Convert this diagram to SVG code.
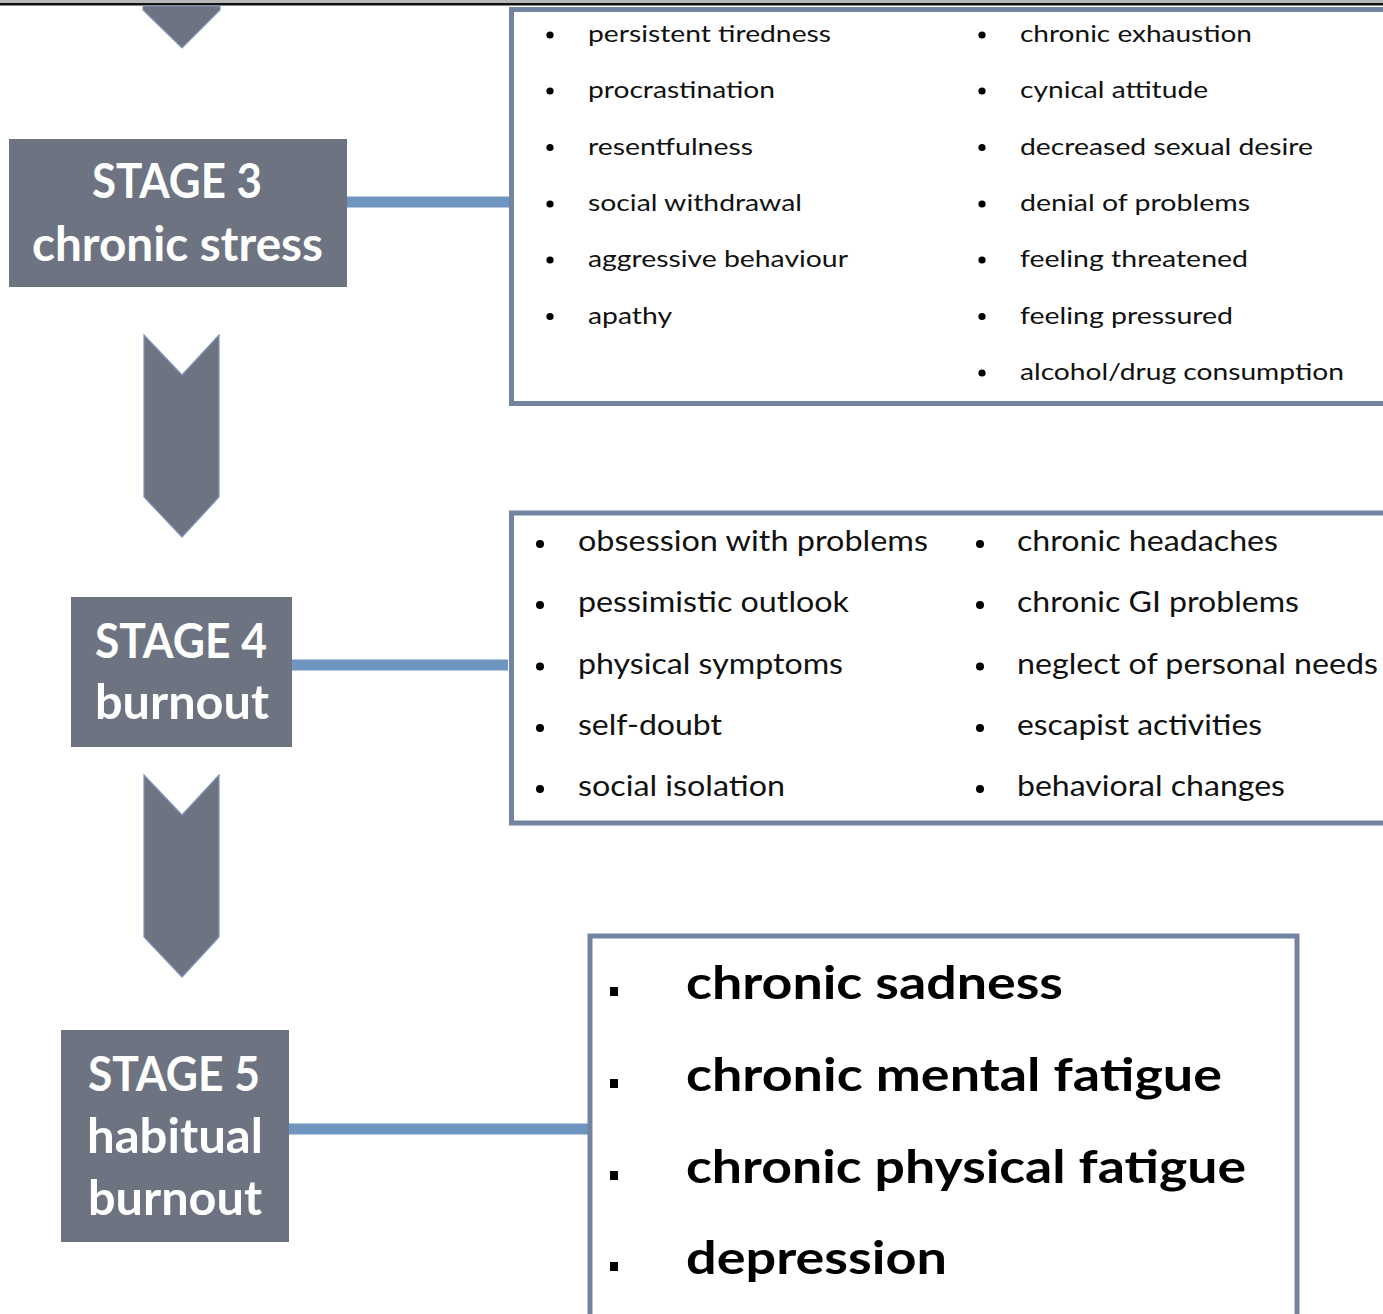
<svg xmlns="http://www.w3.org/2000/svg" width="1383" height="1314" viewBox="0 0 1383 1314">
  <style>
    .node rect { fill: #6d7381; }
    .node text { fill: #ffffff; font-family: Lato, "Open Sans", sans-serif; font-weight: bold; font-size: 48px; }
    .chev { fill: #6d7381; stroke: #7d95ba; stroke-width: 1.2; }
    .box { fill: none; stroke: #7384a3; stroke-width: 5; }
    .link { stroke: #6e94c0; stroke-width: 11; fill: none; }
    .s3 text { font-family: Lato, "Open Sans", sans-serif; font-size: 23px; fill: #111; }
    .s4 text { font-family: Lato, "Open Sans", sans-serif; font-size: 29px; fill: #111; }
    .s5 text { font-family: Lato, "Open Sans", sans-serif; font-size: 46px; font-weight: bold; fill: #000; }
    .dot { fill: #000; }
  </style>

  <!-- page rule at the top edge -->
  <rect x="0" y="0" width="1383" height="3" fill="#b8b8b8"/>
  <rect x="0" y="3" width="1383" height="2.5" fill="#111"/>

  <!-- flow chevrons -->
  <g id="chevrons">
    <polygon class="chev" points="143,6 220,6 220,10 182,48 143,10"/>
    <polygon class="chev" points="144,335 182,375 219,335 219,497 182,537 144,497"/>
    <polygon class="chev" points="144,775 182,815 219,775 219,937 182,977 144,937"/>
  </g>

  <!-- connectors from stage nodes to symptom lists -->
  <g id="connectors">
    <line class="link" x1="343" y1="202" x2="510" y2="202"/>
    <line class="link" x1="291" y1="665" x2="508" y2="665"/>
    <line class="link" x1="283" y1="1129" x2="588" y2="1129"/>
  </g>

  <!-- stage nodes -->
  <g id="stage3" class="node">
    <rect x="9" y="139" width="338" height="148"/>
    <text x="92" y="198" textLength="170" lengthAdjust="spacingAndGlyphs">STAGE 3</text>
    <text x="32" y="261" textLength="291" lengthAdjust="spacingAndGlyphs">chronic stress</text>
  </g>
  <g id="stage4" class="node">
    <rect x="71" y="597" width="221" height="150"/>
    <text x="95" y="658" textLength="172" lengthAdjust="spacingAndGlyphs">STAGE 4</text>
    <text x="95" y="719" textLength="174" lengthAdjust="spacingAndGlyphs">burnout</text>
  </g>
  <g id="stage5" class="node">
    <rect x="61" y="1030" width="228" height="212"/>
    <text x="88" y="1091" textLength="172" lengthAdjust="spacingAndGlyphs">STAGE 5</text>
    <text x="87" y="1153" textLength="176" lengthAdjust="spacingAndGlyphs">habitual</text>
    <text x="88" y="1215" textLength="174" lengthAdjust="spacingAndGlyphs">burnout</text>
  </g>

  <!-- stage 3 symptom list -->
  <g id="list3" class="s3">
    <rect class="box" x="511.5" y="9.5" width="900" height="394"/>
    <g class="dot">
      <circle cx="550" cy="35" r="3.6"/><circle cx="550" cy="91" r="3.6"/><circle cx="550" cy="147.5" r="3.6"/>
      <circle cx="550" cy="204" r="3.6"/><circle cx="550" cy="260" r="3.6"/><circle cx="550" cy="316.5" r="3.6"/>
      <circle cx="982" cy="35" r="3.6"/><circle cx="982" cy="91" r="3.6"/><circle cx="982" cy="147.5" r="3.6"/>
      <circle cx="982" cy="204" r="3.6"/><circle cx="982" cy="260" r="3.6"/><circle cx="982" cy="316.5" r="3.6"/>
      <circle cx="982" cy="373" r="3.6"/>
    </g>
    <text x="588" y="42" textLength="243" lengthAdjust="spacingAndGlyphs">persistent tiredness</text>
    <text x="588" y="98" textLength="187" lengthAdjust="spacingAndGlyphs">procrastination</text>
    <text x="588" y="154.5" textLength="165" lengthAdjust="spacingAndGlyphs">resentfulness</text>
    <text x="588" y="211" textLength="214" lengthAdjust="spacingAndGlyphs">social withdrawal</text>
    <text x="588" y="267" textLength="260" lengthAdjust="spacingAndGlyphs">aggressive behaviour</text>
    <text x="588" y="323.5" textLength="84" lengthAdjust="spacingAndGlyphs">apathy</text>
    <text x="1020" y="42" textLength="232" lengthAdjust="spacingAndGlyphs">chronic exhaustion</text>
    <text x="1020" y="98" textLength="188" lengthAdjust="spacingAndGlyphs">cynical attitude</text>
    <text x="1020" y="154.5" textLength="293" lengthAdjust="spacingAndGlyphs">decreased sexual desire</text>
    <text x="1020" y="211" textLength="230" lengthAdjust="spacingAndGlyphs">denial of problems</text>
    <text x="1020" y="267" textLength="228" lengthAdjust="spacingAndGlyphs">feeling threatened</text>
    <text x="1020" y="323.5" textLength="213" lengthAdjust="spacingAndGlyphs">feeling pressured</text>
    <text x="1020" y="380" textLength="324" lengthAdjust="spacingAndGlyphs">alcohol/drug consumption</text>
  </g>

  <!-- stage 4 symptom list -->
  <g id="list4" class="s4">
    <rect class="box" x="511.5" y="513" width="900" height="310"/>
    <g class="dot">
      <circle cx="540" cy="544" r="4"/><circle cx="540" cy="605" r="4"/><circle cx="540" cy="666.5" r="4"/>
      <circle cx="540" cy="728" r="4"/><circle cx="540" cy="789" r="4"/>
      <circle cx="980" cy="544" r="4"/><circle cx="980" cy="605" r="4"/><circle cx="980" cy="666.5" r="4"/>
      <circle cx="980" cy="728" r="4"/><circle cx="980" cy="789" r="4"/>
    </g>
    <text x="578" y="551" textLength="350" lengthAdjust="spacingAndGlyphs">obsession with problems</text>
    <text x="578" y="612" textLength="271" lengthAdjust="spacingAndGlyphs">pessimistic outlook</text>
    <text x="578" y="673.5" textLength="265" lengthAdjust="spacingAndGlyphs">physical symptoms</text>
    <text x="578" y="735" textLength="144" lengthAdjust="spacingAndGlyphs">self-doubt</text>
    <text x="578" y="796" textLength="207" lengthAdjust="spacingAndGlyphs">social isolation</text>
    <text x="1017" y="551" textLength="261" lengthAdjust="spacingAndGlyphs">chronic headaches</text>
    <text x="1017" y="612" textLength="282" lengthAdjust="spacingAndGlyphs">chronic GI problems</text>
    <text x="1017" y="673.5" textLength="361" lengthAdjust="spacingAndGlyphs">neglect of personal needs</text>
    <text x="1017" y="735" textLength="245" lengthAdjust="spacingAndGlyphs">escapist activities</text>
    <text x="1017" y="796" textLength="268" lengthAdjust="spacingAndGlyphs">behavioral changes</text>
  </g>

  <!-- stage 5 symptom list -->
  <g id="list5" class="s5">
    <rect class="box" x="590" y="936" width="707" height="420"/>
    <g class="dot">
      <rect x="610" y="987" width="8" height="9"/>
      <rect x="610" y="1079" width="8" height="9"/>
      <rect x="610" y="1171" width="8" height="9"/>
      <rect x="610" y="1262" width="8" height="9"/>
    </g>
    <text x="686" y="999" textLength="377" lengthAdjust="spacingAndGlyphs">chronic sadness</text>
    <text x="686" y="1091" textLength="536" lengthAdjust="spacingAndGlyphs">chronic mental fatigue</text>
    <text x="686" y="1183" textLength="560" lengthAdjust="spacingAndGlyphs">chronic physical fatigue</text>
    <text x="686" y="1274" textLength="261" lengthAdjust="spacingAndGlyphs">depression</text>
  </g>
</svg>
